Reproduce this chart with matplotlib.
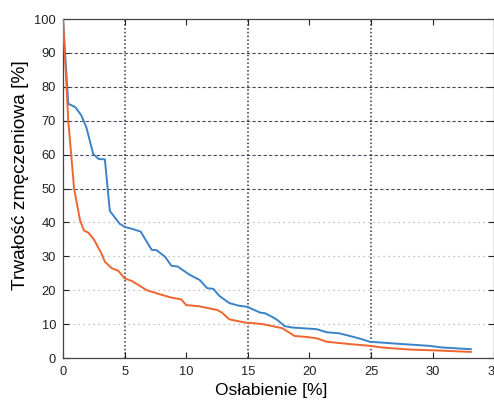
import numpy as np
import matplotlib
matplotlib.use("Agg")
from matplotlib import pyplot as plt

plt.rcParams['font.family'] = ['Liberation Sans', 'DejaVu Sans']

# blue curve
xBlue = [0, 0.43, 1.0, 1.5, 1.9, 2.45, 2.9, 3.4, 3.8, 4.2, 4.6, 5.0, 5.7, 6.3,
         7.2, 7.6, 8.3, 8.8, 9.3, 10.3, 11.1, 11.7, 12.2, 12.7, 13.5, 14.3, 15.0,
         15.2, 16.0, 16.4, 17.0, 17.4, 18.0, 18.6, 20.6, 21.4, 22.4, 23.5, 24.3,
         24.9, 27.6, 29.7, 30.8, 33.1]
yBlue = [100, 75.0, 74.0, 71.5, 68.0, 60.2, 58.7, 58.6, 43.4, 41.5, 39.6, 38.7, 38.0, 37.3,
         31.9, 31.8, 29.8, 27.2, 27.0, 24.5, 23.0, 20.6, 20.4, 18.3, 16.2, 15.4, 15.1,
         14.7, 13.4, 13.2, 12.1, 11.2, 9.4, 9.0, 8.5, 7.6, 7.3, 6.3, 5.5,
         4.8, 4.1, 3.6, 3.1, 2.6]

# orange curve
xOrange = [0, 0.43, 0.9, 1.38, 1.7, 2.05, 2.5, 3.1, 3.4, 3.95, 4.5, 5.0, 5.6, 6.8,
           7.6, 8.7, 9.6, 10.0, 11.0, 11.8, 12.5, 12.9, 13.5, 15.0, 15.2, 16.2, 17.0,
           17.8, 18.8, 19.8, 20.6, 21.4, 23.3, 24.9, 25.9, 28.1, 30.5, 33.1]
yOrange = [100, 70.0, 50.0, 40.7, 37.6, 37.0, 35.0, 31.0, 28.4, 26.5, 25.7, 23.5, 22.7, 20.0,
           19.1, 17.9, 17.3, 15.6, 15.3, 14.7, 14.2, 13.4, 11.4, 10.3, 10.4, 10.0, 9.4,
           8.8, 6.5, 6.2, 5.8, 4.8, 4.1, 3.6, 3.1, 2.5, 2.2, 1.8]

fig = plt.figure(figsize=(4.94, 4.01), dpi=100)
ax = fig.add_axes([0.1275, 0.1072, 0.873, 0.8454])

# grid as in the original: dark dashed top half, light dotted bottom half
for yv in [50, 60, 70, 80, 90]:
    ax.axhline(yv, color='#4a4a5a', lw=0.8, ls=(0, (3, 2)), zorder=1)
for yv in [10, 20, 30, 40]:
    ax.axhline(yv, color='#b0b0b0', lw=0.9, ls=(0, (1, 3)), zorder=1)
for xv in [5, 15, 25]:
    ax.axvline(xv, color='#333344', lw=1.1, ls=(0, (1, 1.5)), zorder=1)

ax.plot(xBlue, yBlue, color='#3b82c8', lw=1.4, zorder=3)
ax.plot(xOrange, yOrange, color='#f0652f', lw=1.4, zorder=3)

ax.set_xlim(0, 35)
ax.set_ylim(0, 100)
ax.set_xticks(np.arange(0, 36, 5))
ax.set_yticks(np.arange(0, 101, 10))
ax.tick_params(direction='in', top=True, right=True, length=4, width=0.8,
               labelsize=9.3, colors='#222222')
ax.tick_params(axis='x', pad=6)
ax.tick_params(axis='y', pad=5)
for sp in ax.spines.values():
    sp.set_color('#444444')
    sp.set_linewidth(0.9)

ax.set_xlabel("Osłabienie [%]", fontsize=12.5)
ax.set_ylabel("Trwałość zmęczeniowa [%]", fontsize=13.8)
ax.xaxis.set_label_coords(0.482, -0.075)
ax.yaxis.set_label_coords(-0.078, 0.54)

fig.savefig("out.png", dpi=100)
